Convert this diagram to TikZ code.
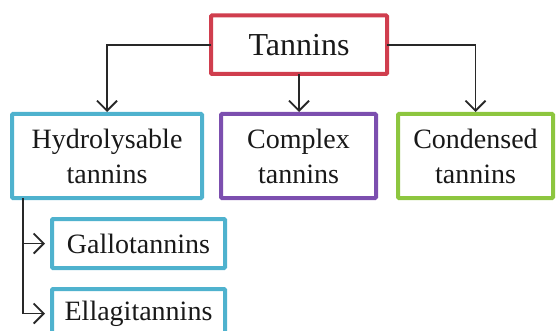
\documentclass[tikz,border=0pt]{standalone}
\usepackage{fontspec}
\setmainfont{Liberation Serif}
\usetikzlibrary{arrows.meta}
\definecolor{cred}{RGB}{208,62,78}
\definecolor{ccyan}{RGB}{79,178,206}
\definecolor{cpurple}{RGB}{124,79,175}
\definecolor{cgreen}{RGB}{141,198,63}
\definecolor{cline}{RGB}{40,40,40}
\definecolor{ctext}{RGB}{25,25,25}
\tikzset{
  box/.style={draw, line width=4pt, rounded corners=1pt, outer sep=0pt, inner sep=0pt,
    align=center, text=ctext, font=\fontsize{28}{35}\selectfont, fill=white},
  conn/.style={draw=cline, line width=1.8pt, -{Straight Barb[length=10pt,width=20pt,line width=1.8pt]}}
}
\begin{document}
\begin{tikzpicture}[x=1pt,y=-1pt]
\useasboundingbox (0,0) rectangle (556,331);
\node[box, draw=cred, minimum width=176pt, minimum height=58.5pt, font=\fontsize{32}{38}\selectfont] (tan) at (299,44.75) {Tannins};
\node[box, draw=ccyan, minimum width=190pt, minimum height=84pt] (hyd) at (107,156) {Hydrolysable\\tannins};
\node[box, draw=cpurple, minimum width=155pt, minimum height=84pt] (com) at (298.5,156) {Complex\\tannins};
\node[box, draw=cgreen, minimum width=155pt, minimum height=84pt] (con) at (475.5,156) {Condensed\\tannins};
\node[box, draw=ccyan, minimum width=173pt, minimum height=49pt] (gal) at (138.5,243.5) {Gallotannins};
\node[box, draw=ccyan, minimum width=173pt, minimum height=49pt] (ell) at (138.5,313.5) {Ellagitannins};
\coordinate (vtop) at (23,198);
\draw[conn, shorten >=2pt] (tan.west) -| (hyd.north);
\draw[conn, shorten >=2pt] (tan.south) -- (tan.south |- com.north);
\draw[conn, shorten >=2pt] (tan.east) -| (con.north);
\draw[draw=cline, line width=1.8pt] (vtop) -- (vtop |- ell.west);
\draw[conn, shorten >=7pt] (vtop |- gal.west) -- (gal.west);
\draw[conn, shorten >=7pt] (vtop |- ell.west) -- (ell.west);
\end{tikzpicture}
\end{document}
